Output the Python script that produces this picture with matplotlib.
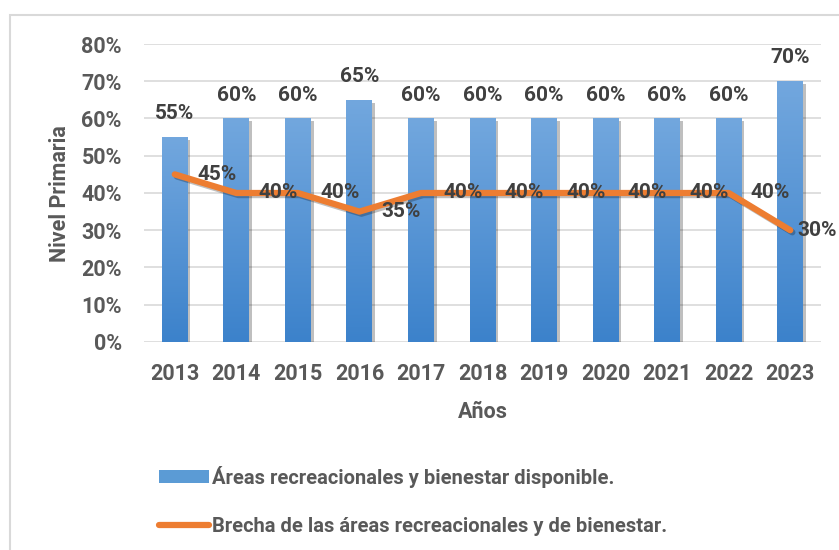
import numpy as np
import matplotlib
matplotlib.use('Agg')
import matplotlib.pyplot as plt
import matplotlib.patheffects as pe
from matplotlib.patches import Rectangle, Patch
from matplotlib.lines import Line2D
from matplotlib.colors import LinearSegmentedColormap

plt.rcParams['font.family'] = ['Roboto', 'DejaVu Sans']
plt.rcParams['font.weight'] = 'bold'

years = ['2013', '2014', '2015', '2016', '2017', '2018', '2019', '2020', '2021', '2022', '2023']
disponible = [0.55, 0.60, 0.60, 0.65, 0.60, 0.60, 0.60, 0.60, 0.60, 0.60, 0.70]
brecha = [0.45, 0.40, 0.40, 0.35, 0.40, 0.40, 0.40, 0.40, 0.40, 0.40, 0.30]
label_bar = 'Áreas recreacionales y bienestar disponible.'
label_line = 'Brecha de las áreas recreacionales y de bienestar.'

blue_mid = '#5B9BD5'
orange = '#ED7D31'
grid_c = '#D9D9D9'
tick_c = '#595959'
lab_c = '#404040'

fig = plt.figure(figsize=(8.39, 5.5), dpi=100)
ax = fig.add_axes([0.1716, 0.3782, 0.807, 0.5418])

x = np.arange(len(years))
w = 0.42
cmap = LinearSegmentedColormap.from_list('bg', ['#3C82CB', '#72A7DE'])
grad = np.linspace(0, 1, 100).reshape(-1, 1)

bars = ax.bar(x, disponible, width=w, color=blue_mid, zorder=2,
              path_effects=[pe.SimplePatchShadow(offset=(2, -2), alpha=0.25, shadow_rgbFace='k'), pe.Normal()])
for b in bars:
    im = ax.imshow(grad, cmap=cmap, origin='lower', aspect='auto', zorder=2.5,
                   extent=(b.get_x(), b.get_x() + b.get_width(), 0, b.get_height()))
    im.set_clip_path(b)

ax.plot(x, brecha, color=orange, lw=4.5, solid_capstyle='round', solid_joinstyle='round', zorder=3,
        path_effects=[pe.SimpleLineShadow(offset=(1.5, -1.5), alpha=0.25), pe.Normal()])

for xi, v in zip(x, disponible):
    ax.annotate(f'{v:.0%}', (xi, v), xytext=(0, 10), textcoords='offset points',
                ha='center', va='bottom', fontsize=15, fontweight='bold', color=lab_c, zorder=5)
for i, (xi, v) in enumerate(zip(x, brecha)):
    off = 16 if i < len(brecha) - 1 else 5
    ax.annotate(f'{v:.0%}', (xi, v), xytext=(off, 0), textcoords='offset points',
                ha='left', va='center', fontsize=15, fontweight='bold', color=lab_c, zorder=5,
                annotation_clip=False)

ax.set_xlim(-0.5, len(years) - 0.5)
ax.set_ylim(0, 0.8)
ax.set_yticks(np.arange(0, 0.81, 0.1))
ax.set_yticklabels([f'{t:.0%}' for t in np.arange(0, 0.81, 0.1)])
ax.set_xticks(x)
ax.set_xticklabels(years)
ax.tick_params(axis='both', length=0, labelsize=15.5, labelcolor=tick_c)
ax.tick_params(axis='y', pad=16)
ax.tick_params(axis='x', pad=15)
for lbl in ax.get_xticklabels() + ax.get_yticklabels():
    lbl.set_fontweight('bold')
ax.grid(axis='y', color=grid_c, lw=1.2, zorder=0)
ax.set_axisbelow(True)
for s in ax.spines.values():
    s.set_visible(False)

# y title placed directly
fig.text(60 / 839, 1 - 194 / 550, 'Nivel Primaria', rotation=90, ha='center', va='center',
         fontsize=15.5, fontweight='bold', color=tick_c)
ax.set_xlabel('Años', fontsize=15.5, fontweight='bold', color=tick_c, labelpad=12)

handles = [Patch(facecolor=blue_mid, edgecolor='none'),
           Line2D([0], [0], color=orange, lw=4.5, solid_capstyle='round')]
fig.legend(handles, [label_bar, label_line], loc='upper left', bbox_to_anchor=(0.168, 0.186),
           frameon=False, handlelength=2.5, handleheight=0.65, handletextpad=0.15, labelspacing=1.45,
           labelcolor=tick_c, prop={'weight': 'bold', 'size': 14.5})

fig.add_artist(Rectangle((10 / 839, -0.1), 1.2, 1.1 - 15 / 550, transform=fig.transFigure,
                         fill=False, edgecolor=grid_c, lw=1.5))

fig.savefig('out.png', dpi=100)
